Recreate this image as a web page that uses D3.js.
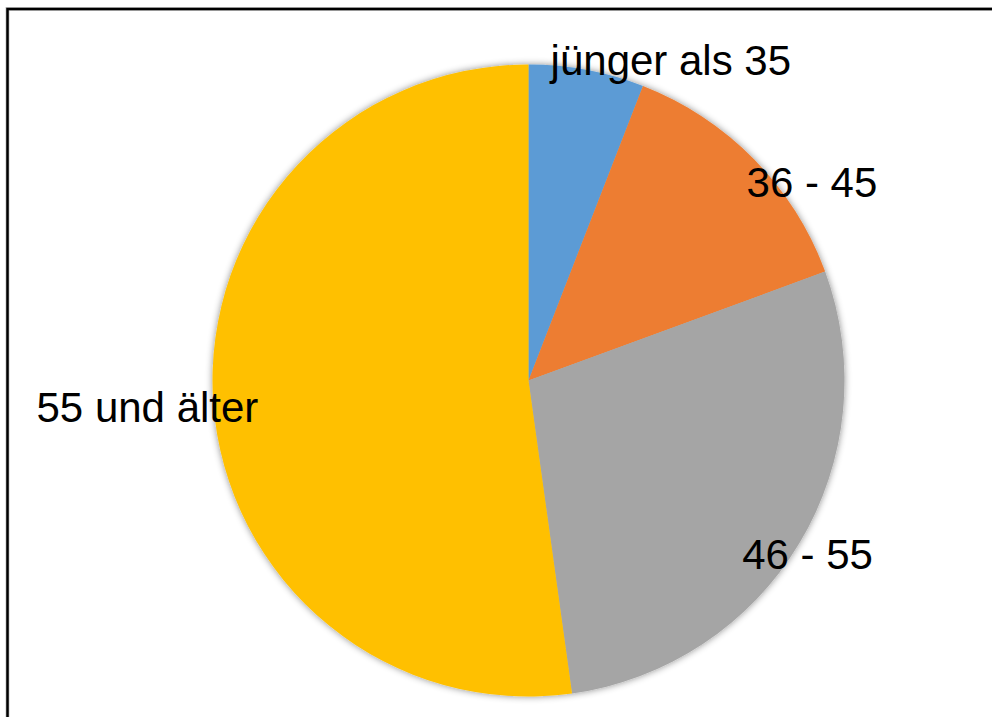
<!DOCTYPE html>
<html>
<head>
<meta charset="utf-8">
<script src="https://cdn.jsdelivr.net/npm/d3@7"></script>
<style>
  body { margin: 0; background: #fff; }
  svg { display: block; }
</style>
</head>
<body>
<script>
// Data
const categories = ["jünger als 35", "36 - 45", "46 - 55", "55 und älter"];
const shares = [5.9, 13.5, 28.4, 52.2];
const colors = ["#5B9BD5", "#ED7D31", "#A5A5A5", "#FFC000"];

// Layout
const width = 992;
const height = 717;
const cx = 528.5, cy = 380.5, radius = 316;

// label placement: angle (deg, clockwise from top) and distance from centre
const labelLayout = [
  { angle: 24, dist: 350 },
  { angle: 55, dist: 346 },
  { angle: 122, dist: 329 },
  { angle: 266, dist: 382 }
];

const svg = d3.select("body")
  .append("svg")
  .attr("width", width)
  .attr("height", height);

// Shadow filter
const defs = svg.append("defs");
const f = defs.append("filter")
  .attr("id", "shadow")
  .attr("x", "-10%").attr("y", "-10%")
  .attr("width", "120%").attr("height", "120%");
f.append("feDropShadow")
  .attr("dx", 0).attr("dy", 0)
  .attr("stdDeviation", 3.5)
  .attr("flood-color", "#000")
  .attr("flood-opacity", 0.45);

// Frame
svg.append("rect")
  .attr("x", 7.5).attr("y", 9)
  .attr("width", 1000).attr("height", 1000)
  .attr("fill", "none")
  .attr("stroke", "#c8c8c8")
  .attr("stroke-width", 4);
svg.append("rect")
  .attr("x", 7.5).attr("y", 9)
  .attr("width", 1000).attr("height", 1000)
  .attr("fill", "none")
  .attr("stroke", "#000")
  .attr("stroke-width", 2.5);

// Pie
const pie = d3.pie().sort(null).value(d => d.value);
const arc = d3.arc().innerRadius(0).outerRadius(radius);
const data = categories.map((c, i) => ({ label: c, value: shares[i], color: colors[i] }));

const g = svg.append("g")
  .attr("transform", `translate(${cx},${cy})`);

g.append("g")
  .attr("filter", "url(#shadow)")
  .selectAll("path")
  .data(pie(data))
  .enter()
  .append("path")
  .attr("d", arc)
  .attr("fill", d => d.data.color);

// Labels
g.selectAll("text")
  .data(data)
  .enter()
  .append("text")
  .attr("x", (d, i) => Math.sin(labelLayout[i].angle * Math.PI / 180) * labelLayout[i].dist)
  .attr("y", (d, i) => -Math.cos(labelLayout[i].angle * Math.PI / 180) * labelLayout[i].dist)
  .attr("text-anchor", "middle")
  .attr("dominant-baseline", "central")
  .style("font-family", "Arial, 'Liberation Sans', sans-serif")
  .style("font-size", "42px")
  .style("fill", "#000")
  .text(d => d.label);
</script>
</body>
</html>
